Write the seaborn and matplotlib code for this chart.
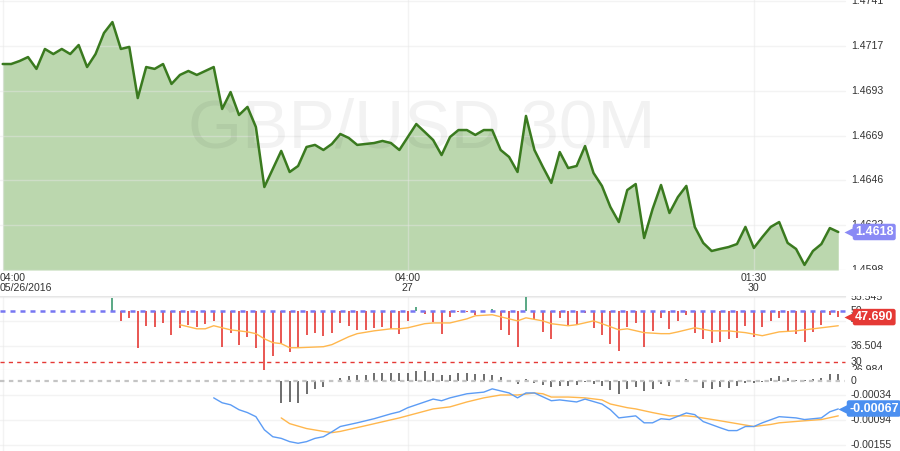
import numpy as np
import pandas as pd
import seaborn as sns
import matplotlib.pyplot as plt

# GBP/USD 30 minute closes, first bar 04:00 05/26/2016
price = [1.47075, 1.47075, 1.47091, 1.47112, 1.47049, 1.47155, 1.47128, 1.47155, 1.47128, 1.47176,
         1.47059, 1.47128, 1.47240, 1.47298, 1.47155, 1.47166, 1.46894, 1.47059, 1.47049, 1.47075,
         1.46969, 1.47017, 1.47038, 1.47017, 1.47038, 1.47059, 1.46836, 1.46926, 1.46804, 1.46847,
         1.46740, 1.46421, 1.46517, 1.46613, 1.46501, 1.46533, 1.46634, 1.46645, 1.46618, 1.46650,
         1.46703, 1.46682, 1.46645, 1.46650, 1.46655, 1.46666, 1.46655, 1.46618, 1.46687, 1.46756,
         1.46714, 1.46671, 1.46591, 1.46687, 1.46724, 1.46724, 1.46698, 1.46724, 1.46724, 1.46618,
         1.46581, 1.46501, 1.46799, 1.46618, 1.46528, 1.46443, 1.46607, 1.46522, 1.46533, 1.46639,
         1.46496, 1.46427, 1.46315, 1.46235, 1.46405, 1.46437, 1.46150, 1.46304, 1.46432, 1.46283,
         1.46368, 1.46427, 1.46209, 1.46124, 1.46081, 1.46092, 1.46102, 1.46118, 1.46209, 1.46097,
         1.46155, 1.46209, 1.46235, 1.46124, 1.46092, 1.46007, 1.46081, 1.46118, 1.46203, 1.46182]

# RSI, one value per bar from bar 13 on
rsi_start = 13
rsi = [55.2, 46.3, 47.4, 35.7, 44.3, 43.9, 45.4, 40.8, 43.5, 44.7,
       43.9, 45.1, 46.2, 36.1, 41.6, 36.9, 40.0, 35.7, 26.8, 32.6,
       37.3, 34.2, 35.7, 40.8, 41.6, 40.4, 41.6, 45.4, 44.3, 42.7,
       42.7, 43.5, 43.9, 43.1, 41.2, 46.2, 51.7, 48.9, 45.8, 41.2,
       47.8, 49.7, 49.7, 48.6, 49.8, 50.9, 42.7, 40.8, 36.1, 55.5,
       47.0, 41.9, 39.2, 47.4, 44.7, 44.7, 49.3, 43.5, 40.8, 37.3,
       34.6, 43.9, 45.4, 36.1, 42.3, 47.4, 43.1, 46.2, 48.6, 41.6,
       39.2, 37.7, 38.1, 39.2, 39.6, 44.3, 40.0, 43.9, 46.2, 47.4,
       41.9, 41.2, 38.1, 41.9, 44.7, 48.6, 47.69]

# RSI average line (bar index, value)
rsi_ma_idx = [21, 23, 24, 25, 27, 29, 30, 31, 32, 33, 34, 35, 38, 39, 41, 42, 44, 46, 47, 48,
              50, 51, 53, 55, 56, 58, 59, 61, 62, 64, 65, 67, 68, 70, 71, 73, 74, 76, 78, 79,
              80, 82, 84, 86, 88, 90, 92, 94, 96, 99]
rsi_ma = [44.7, 43.1, 43.1, 44.3, 42.7, 41.9, 41.2, 39.2, 37.7, 37.3, 35.7, 35.7, 36.1, 36.9, 40.0,
          41.2, 42.3, 43.1, 43.1, 43.5, 45.1, 45.4, 45.4, 47.0, 48.2, 48.6, 47.8, 46.2, 47.4, 46.2,
          45.1, 44.3, 44.7, 46.2, 45.1, 42.7, 43.1, 41.6, 41.2, 41.2, 41.9, 43.5, 42.3, 42.3, 41.6,
          40.4, 41.9, 42.3, 43.1, 44.3]

# MACD histogram from bar 33 on
hist_start = 33
macd_hist = [-0.00053, -0.00051, -0.00053, -0.00031, -0.00019, -0.00015, -0.00002, 0.00007, 0.00012, 0.00015,
             0.00015, 0.00019, 0.00019, 0.00019, 0.00019, 0.00019, 0.00024, 0.00024, 0.00019, 0.00015,
             0.00015, 0.00019, 0.00019, 0.00017, 0.00017, 0.00015, 0.00010, 0.00002, -0.00007, 0.00005,
             -0.00005, -0.00010, -0.00015, -0.00012, -0.00012, -0.00010, -0.00001, -0.00007, -0.00012, -0.00022,
             -0.00031, -0.00019, -0.00015, -0.00024, -0.00019, -0.00007, -0.00012, -0.00002, 0.00005, -0.00002,
             -0.00017, -0.00019, -0.00015, -0.00017, -0.00012, -0.00005, -0.00005, -0.00002, 0.00007, 0.00012,
             0.00007, 0.00002, 0.00002, 0.00005, 0.00007, 0.00017, 0.00017]

# MACD line (bar index, value)
macd_idx = [25, 26, 27, 28, 29, 30, 31, 32, 33, 34, 35, 36, 37, 38, 39, 40, 42, 44, 46, 47,
            48, 50, 51, 52, 53, 55, 57, 58, 59, 60, 61, 62, 63, 65, 66, 68, 69, 71, 72, 73,
            75, 76, 77, 78, 79, 81, 82, 83, 85, 86, 87, 88, 89, 90, 92, 94, 95, 97, 98, 99]
macd = [-0.00041, -0.00053, -0.00058, -0.00070, -0.00077, -0.00087, -0.00119, -0.00136, -0.00140, -0.00148,
        -0.00152, -0.00148, -0.00140, -0.00136, -0.00124, -0.00111, -0.00102, -0.00092, -0.00080, -0.00075,
        -0.00065, -0.00051, -0.00044, -0.00048, -0.00041, -0.00031, -0.00027, -0.00019, -0.00024, -0.00029,
        -0.00041, -0.00029, -0.00029, -0.00048, -0.00046, -0.00051, -0.00044, -0.00056, -0.00070, -0.00090,
        -0.00085, -0.00102, -0.00102, -0.00092, -0.00094, -0.00078, -0.00082, -0.00099, -0.00114, -0.00121,
        -0.00121, -0.00111, -0.00111, -0.00102, -0.00087, -0.00090, -0.00094, -0.00090, -0.00075, -0.00068]

# signal line (bar index, value)
signal_idx = [33, 34, 36, 38, 39, 40, 43, 47, 51, 53, 55, 57, 59, 61, 63, 64, 65, 67, 69, 71,
              72, 74, 75, 77, 79, 81, 82, 85, 87, 89, 91, 92, 95, 97, 99]
signal = [-0.00090, -0.00104, -0.00116, -0.00123, -0.00126, -0.00123, -0.00109, -0.00090, -0.00068, -0.00063,
          -0.00051, -0.00041, -0.00034, -0.00034, -0.00029, -0.00031, -0.00039, -0.00039, -0.00041, -0.00046,
          -0.00056, -0.00065, -0.00068, -0.00077, -0.00085, -0.00085, -0.00087, -0.00097, -0.00104, -0.00111,
          -0.00106, -0.00102, -0.00097, -0.00094, -0.00085]

time_ticks = [0, 48, 89]
time_labels = ["04:00\n05/26/2016", "04:00\n27", "01:30\n30"]
price_ticks = [1.4598, 1.4622, 1.4646, 1.4669, 1.4693, 1.4717, 1.4741]
price_labels = ["1.4598", "1.4622", "1.4646", "1.4669", "1.4693", "1.4717", "1.4741"]
rsi_ticks = [55.545, 46.025, 36.504, 26.984]
rsi_labels = ["55.545", "46.025", "36.504", "26.984"]
macd_ticks = [-0.00034, -0.00094, -0.00155]
macd_labels = ["-0.00034", "-0.00094", "-0.00155"]

sns.set_style("white")
plt.rcParams['font.family'] = ['Liberation Sans', 'DejaVu Sans']

W, H = 900, 451
X0, STEP = 2.7, 8.44          # pixel of first bar, pixels per bar
GRID_END = 845 / W
LABEL_X = 851 / W
GRID_C = '#e6e6e6'
TXT_C = '#333333'

fig = plt.figure(figsize=(W / 100, H / 100), dpi=100)


def panel(top, bottom, hi, lo):
    ax = fig.add_axes([0, 1 - bottom / H, 1, (bottom - top) / H])
    ax.set_xlim(-X0 / STEP, (W - X0) / STEP)
    (v1, y1), (v2, y2) = hi, lo
    k = (v1 - v2) / (y2 - y1)
    ax.set_ylim(v1 - (bottom - y1) * k, v1 + (y1 - top) * k)
    ax.axis('off')
    for t in time_ticks:
        ax.axvline(t, color=GRID_C, lw=1, alpha=0.45, zorder=1.5)
    return ax


def scale_labels(ax, ticks, labels, grid=True):
    for v, s in zip(ticks, labels):
        if grid:
            ax.axhline(v, xmax=GRID_END, color=GRID_C, lw=1, alpha=0.45, zorder=1.5)
        ax.text(LABEL_X, v, s, transform=ax.get_yaxis_transform(), ha='left', va='center',
                fontsize=7.6, color=TXT_C, clip_on=True, zorder=4)


def badge(ax, v, s, fc, x=855):
    tr = ax.get_yaxis_transform()
    ax.plot([x / W - 6 / W], [v], marker='<', ms=7, color=fc, mec='none',
            transform=tr, clip_on=False, zorder=6)
    ax.text(x / W, v, s, transform=tr, ha='left', va='center', fontsize=9,
            fontweight='bold', color='white', clip_on=False, zorder=7,
            bbox=dict(boxstyle='round,pad=0.18', fc=fc, ec='none'))


# ---- price panel
ax = panel(0, 270, (1.4741, 1), (1.4598, 270))
bottom = ax.get_ylim()[0]
idx = np.arange(len(price))
df = pd.DataFrame({'bar': idx, 'price': price})
ax.fill_between(df['bar'], df['price'], bottom, color='#bbd7ae', lw=0, zorder=1)
sns.lineplot(data=df, x='bar', y='price', ax=ax, color='#3a7a1f', linewidth=1.8,
             sort=False, legend=False, zorder=3)
ax.axis('off')
scale_labels(ax, price_ticks, price_labels)
ax.text(422 / W, 1 - 130 / 270, 'GBP/USD 30M', transform=ax.transAxes, ha='center',
        va='center', fontsize=50, color='black', alpha=0.05, zorder=2)
for t, s in zip(time_ticks, time_labels):
    x = ax.get_xlim()[0] if t == 0 else t
    ax.annotate(s, (x, bottom), xytext=(0, -2.5), textcoords='offset points',
                ha='left' if t == 0 else 'center', va='top', fontsize=7.6, color=TXT_C,
                linespacing=0.95, annotation_clip=False)
badge(ax, price[-1], f"{price[-1]:.4f}", '#8a8af5')

# ---- RSI panel
ax = panel(296, 370, (55.545, 297), (26.984, 370))
ax.axhline(ax.get_ylim()[1], xmax=GRID_END, color=GRID_C, lw=1, zorder=1.5)
ridx = np.arange(rsi_start, rsi_start + len(rsi))
cols = ['#e53935' if v < 50 else '#3d9970' for v in rsi]
ax.vlines(ridx, 50, rsi, colors=cols, lw=1.2, zorder=2)
sns.lineplot(x=rsi_ma_idx, y=rsi_ma, ax=ax, color='#ffb74d', linewidth=1.0,
             sort=False, legend=False, zorder=3)
ax.axis('off')
ax.axhline(50, xmax=GRID_END, color='#7777f2', lw=1.8, ls=(0, (2, 2)), zorder=4)
ax.axhline(30, xmax=GRID_END, color='#e53935', lw=1.0, ls=(0, (3, 3)), zorder=4)
scale_labels(ax, rsi_ticks, rsi_labels)
scale_labels(ax, [50, 30], ["50", "30"], grid=False)
badge(ax, rsi[-1], f"{rsi[-1]:.3f}", '#e53935')

# ---- MACD panel
ax = panel(370, 451, (-0.00034, 395), (-0.00155, 444.5))
hidx = np.arange(hist_start, hist_start + len(macd_hist))
ax.vlines(hidx, 0, macd_hist, colors='#555555', lw=1.2, zorder=2)
ax.axhline(0, xmax=GRID_END, color='#c4c4c4', lw=1.6, ls=(0, (2, 2)), zorder=2.5)
sns.lineplot(x=signal_idx, y=signal, ax=ax, color='#ffb74d', linewidth=1.0,
             sort=False, legend=False, zorder=3)
sns.lineplot(x=macd_idx, y=macd, ax=ax, color='#5c9cf5', linewidth=1.0,
             sort=False, legend=False, zorder=3)
ax.axis('off')
scale_labels(ax, macd_ticks, macd_labels)
scale_labels(ax, [0], ["0"], grid=False)
badge(ax, macd[-1] + 0.00001, "-0.00067", '#4b8ff0', x=849)

fig.savefig('out.png', dpi=100)
